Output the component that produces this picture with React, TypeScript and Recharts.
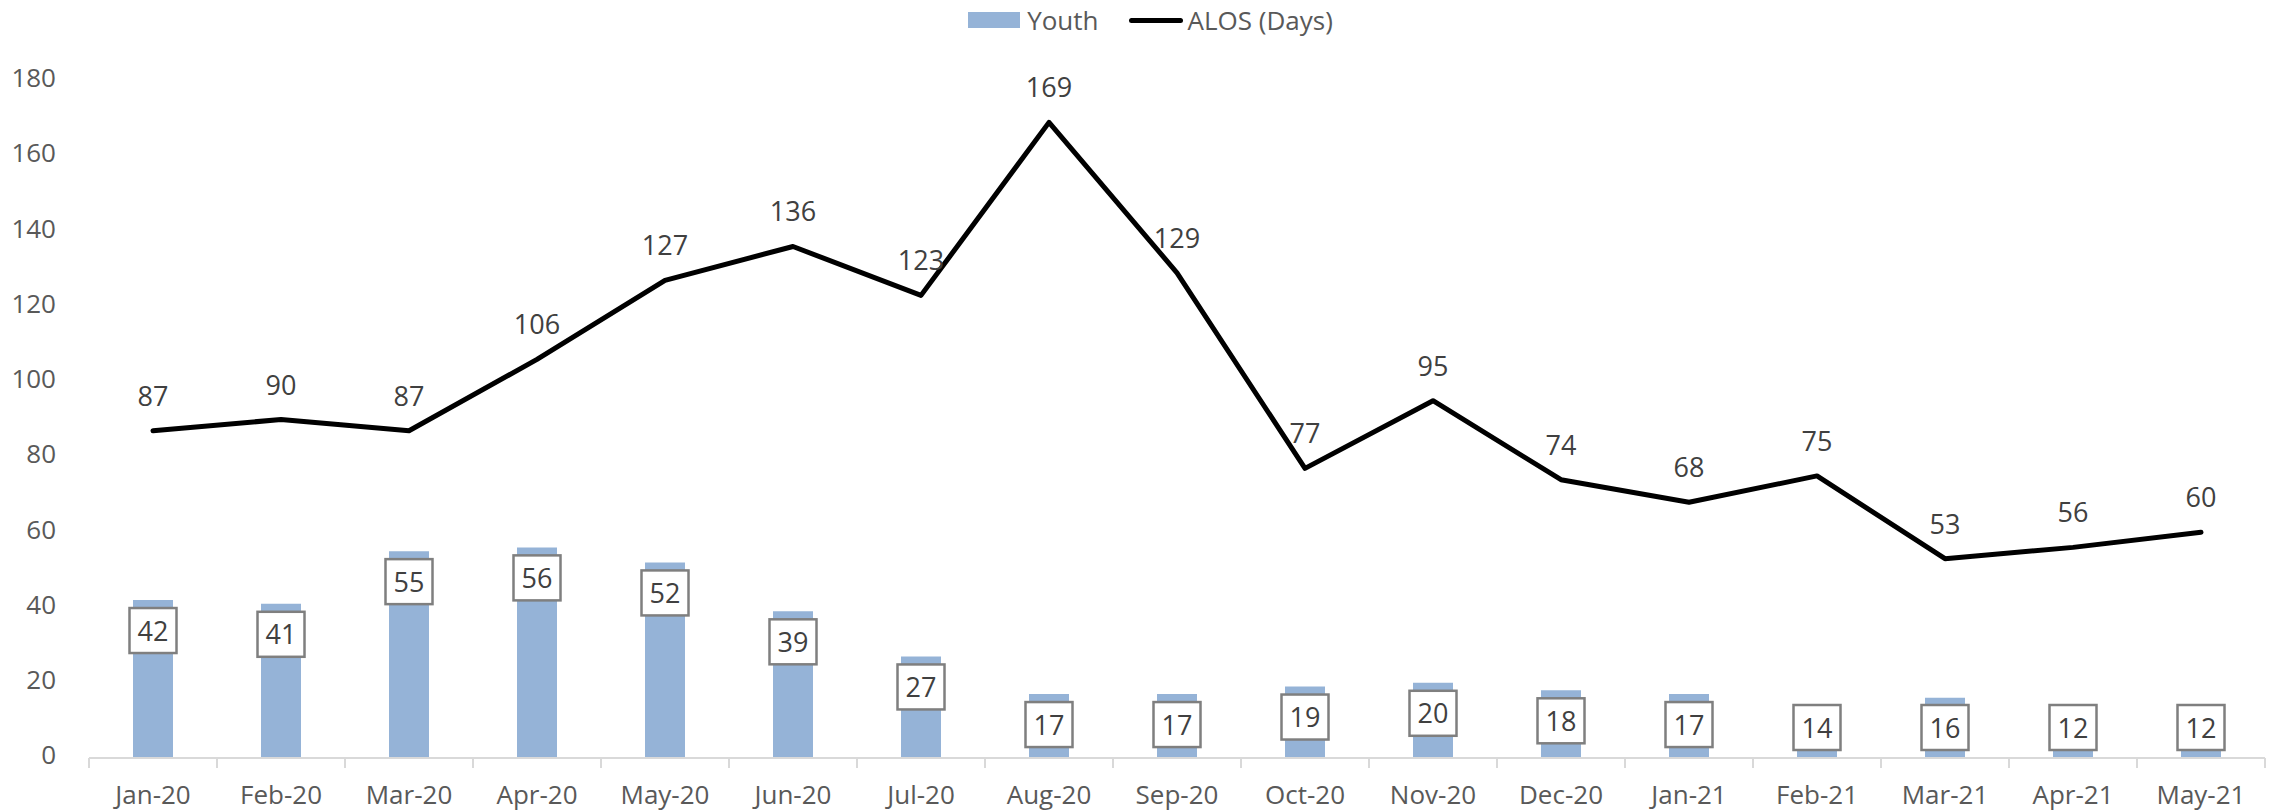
import React from "react";
import {
  ComposedChart,
  Bar,
  Line,
  XAxis,
  YAxis,
  Legend,
  LabelList,
} from "recharts";

const months = [
  "Jan-20", "Feb-20", "Mar-20", "Apr-20", "May-20", "Jun-20", "Jul-20", "Aug-20", "Sep-20",
  "Oct-20", "Nov-20", "Dec-20", "Jan-21", "Feb-21", "Mar-21", "Apr-21", "May-21",
];
const youth = [42, 41, 55, 56, 52, 39, 27, 17, 17, 19, 20, 18, 17, 14, 16, 12, 12];
const alos = [87, 90, 87, 106, 127, 136, 123, 169, 129, 77, 95, 74, 68, 75, 53, 56, 60];
const yTicks = [0, 20, 40, 60, 80, 100, 120, 140, 160, 180];

const data = months.map((m, i) => ({ month: m, youth: youth[i], alos: alos[i] }));

const W = 2277;
const H = 812;
const LEFT = 89;
const RIGHT = 12;
const FONT = "'Open Sans', sans-serif";
const HALF_BAND = (W - LEFT - RIGHT) / months.length / 2;

const MonthTick = (props: any) => {
  const { x, y, payload, index } = props;
  const last = index === months.length - 1;
  return (
    <g>
      <line x1={x - HALF_BAND} x2={x - HALF_BAND} y1={y} y2={y + 10} stroke="#d9d9d9" strokeWidth={2} />
      {last && (
        <line x1={x + HALF_BAND} x2={x + HALF_BAND} y1={y} y2={y + 10} stroke="#d9d9d9" strokeWidth={2} />
      )}
      <text x={x} y={y + 46} textAnchor="middle" fontSize={26} fontFamily={FONT} fill="#595959">
        {payload.value}
      </text>
    </g>
  );
};

const BoxLabel = (props: any) => {
  const { x, y, width, height, value } = props;
  const bw = 47;
  const bh = 45;
  const bottom = y + height;
  const top = Math.min(y + 8, bottom - 8 - bh);
  const cx = x + width / 2;
  return (
    <g>
      <rect x={cx - bw / 2} y={top} width={bw} height={bh} fill="#ffffff" stroke="#7f7f7f" strokeWidth={2.5} />
      <text x={cx} y={top + bh / 2 + 10} textAnchor="middle" fontSize={27} fontFamily={FONT} fill="#404040">
        {value}
      </text>
    </g>
  );
};

const LineLabel = (props: any) => {
  const { x, y, value } = props;
  return (
    <text x={x} y={y - 25} textAnchor="middle" fontSize={27} fontFamily={FONT} fill="#404040">
      {value}
    </text>
  );
};

const LegendBox = () => (
  <div
    style={{
      display: "flex",
      justifyContent: "center",
      alignItems: "center",
      fontFamily: FONT,
      fontSize: 26,
      color: "#595959",
      paddingLeft: 24,
    }}
  >
    <span style={{ display: "inline-block", width: 52, height: 16, background: "#95b3d7", marginRight: 7 }} />
    <span style={{ marginRight: 30 }}>Youth</span>
    <span style={{ display: "inline-block", width: 54, height: 5, background: "#000", borderRadius: 3, marginRight: 5 }} />
    <span>ALOS (Days)</span>
  </div>
);

export default function App() {
  return (
    <div style={{ position: "absolute", left: 0, top: 0, background: "#fff" }}>
      <ComposedChart
        width={W}
        height={H}
        data={data}
        margin={{ top: 81, right: RIGHT, bottom: 0, left: 0 }}
      >
        <XAxis
          dataKey="month"
          axisLine={{ stroke: "#d9d9d9", strokeWidth: 2 }}
          tickLine={false}
          tickSize={0}
          tickMargin={0}
          tick={<MonthTick />}
          interval={0}
          height={54}
        />
        <YAxis
          domain={[0, 180]}
          ticks={yTicks}
          width={LEFT}
          axisLine={false}
          tickLine={false}
          tickSize={0}
          tickMargin={33}
          tick={{ fontSize: 26, fontFamily: FONT, fill: "#595959", dy: -3 }}
        />
        <Legend verticalAlign="middle" layout="horizontal" wrapperStyle={{ top: 2, left: 0, width: W }} content={<LegendBox />} />
        <Bar dataKey="youth" name="Youth" fill="#95b3d7" barSize={40} isAnimationActive={false}>
          <LabelList dataKey="youth" content={<BoxLabel />} />
        </Bar>
        <Line
          dataKey="alos"
          name="ALOS (Days)"
          type="linear"
          stroke="#000000"
          strokeWidth={5}
          strokeLinejoin="round"
          strokeLinecap="round"
          dot={false}
          activeDot={false}
          isAnimationActive={false}
        >
          <LabelList dataKey="alos" content={<LineLabel />} />
        </Line>
      </ComposedChart>
    </div>
  );
}
